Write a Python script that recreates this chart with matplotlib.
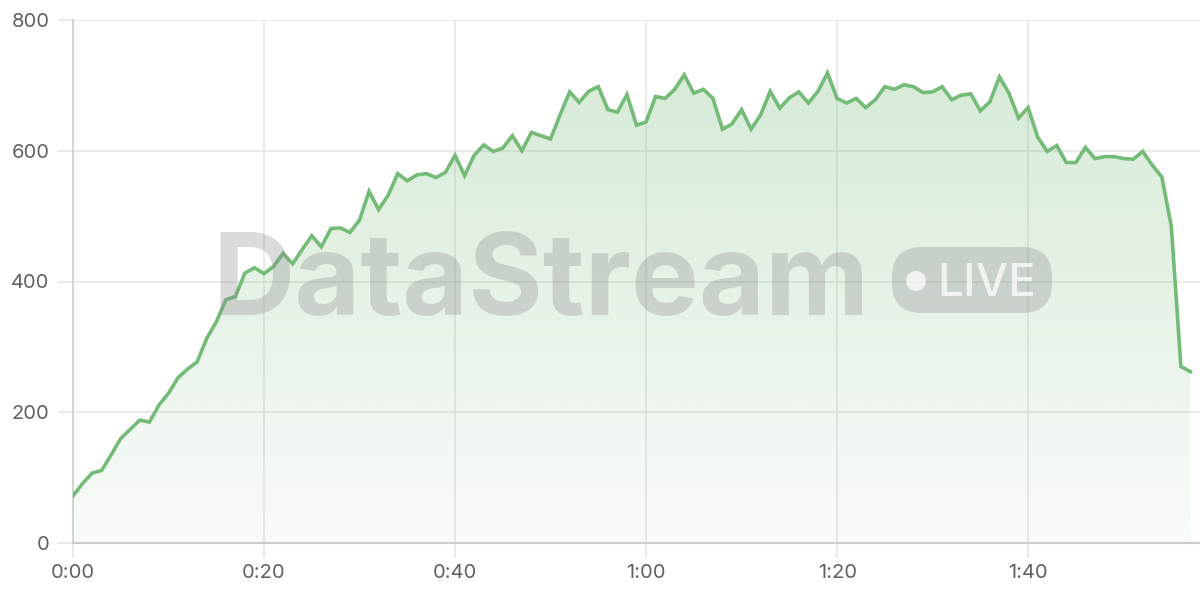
import numpy as np
import matplotlib
matplotlib.use("Agg")
import matplotlib.pyplot as plt
from matplotlib.patches import FancyBboxPatch, Ellipse
from matplotlib.colors import to_rgb

plt.rcParams['font.family'] = ['Inter', 'DejaVu Sans']

# seconds since start, one sample per second
seconds = list(range(118))
viewers = [
    72, 91, 107, 111, 135, 160, 174, 188, 185, 211,
    229, 253, 266, 277, 313, 338, 372, 377, 413, 421,
    412, 423, 443, 427, 449, 470, 453, 481, 482, 475,
    494, 538, 510, 532, 565, 554, 563, 565, 559, 567,
    593, 562, 593, 609, 599, 604, 623, 600, 628, 623,
    618, 655, 690, 674, 691, 698, 663, 659, 686, 639,
    644, 683, 680, 694, 716, 688, 694, 680, 633, 641,
    663, 633, 655, 691, 665, 681, 690, 673, 691, 719,
    680, 673, 680, 666, 678, 698, 694, 701, 698, 689,
    690, 698, 678, 685, 687, 661, 675, 713, 688, 650,
    666, 621, 599, 608, 582, 582, 605, 588, 591, 591,
    588, 587, 599, 578, 560, 484, 270, 262,
]
x_ticks = [0, 20, 40, 60, 80, 100]
x_tick_labels = ['0:00', '0:20', '0:40', '1:00', '1:20', '1:40']
y_ticks = [0, 200, 400, 600, 800]

line_color = '#74bb78'
grid_color = '#e6e6e6'
label_color = '#606060'

fig = plt.figure(figsize=(12, 6), dpi=100)
ax = fig.add_axes([73 / 1200, 57 / 600, 1 - 73 / 1200, (543 - 20) / 600])

ax.set_xlim(0, 118)
ax.set_ylim(0, 800)

# gradient fill under the line
fill = ax.fill_between(seconds, viewers, 0, color='none', lw=0, zorder=1)
r, g, b = to_rgb(line_color)
alpha = np.linspace(0.05, 0.32, 256).reshape(-1, 1)
grad = np.zeros((256, 1, 4))
grad[..., 0] = r
grad[..., 1] = g
grad[..., 2] = b
grad[..., 3] = alpha
img = ax.imshow(grad, extent=[0, 118, 0, 800], origin='lower', aspect='auto', zorder=1)
path = fill.get_paths()[0]
img.set_clip_path(path, transform=ax.transData)

ax.plot(seconds, viewers, color=line_color, lw=2.6, zorder=4, solid_joinstyle='miter')

ax.set_xticks(x_ticks)
ax.set_xticklabels(x_tick_labels)
ax.set_yticks(y_ticks)
ax.grid(True, color=grid_color, lw=1.2, zorder=0)
ax.set_axisbelow(True)
ax.tick_params(axis='both', colors=grid_color, labelcolor=label_color, labelsize=14.5,
               length=11, width=1.2)
ax.tick_params(axis='x', pad=4)
ax.tick_params(axis='y', pad=6)
for side in ['top', 'right']:
    ax.spines[side].set_visible(False)
ax.spines['left'].set_color('#d4d4d4')
ax.spines['bottom'].set_color('#cccccc')
ax.spines['left'].set_linewidth(1.5)
ax.spines['bottom'].set_linewidth(1.5)

# watermark
fig.text(541 / 1200, 1 - 315 / 600, 'DataStream', fontsize=82, fontweight='bold',
         color='#888888', alpha=0.3, ha='center', va='baseline', zorder=3)
badge = FancyBboxPatch((892 / 1200, 1 - 313 / 600), 160 / 1200, 66 / 600,
                       boxstyle='round,pad=0,rounding_size=0.025', transform=fig.transFigure,
                       facecolor='#888888', alpha=0.3, edgecolor='none', zorder=3,
                       mutation_aspect=2)
fig.add_artist(badge)
fig.add_artist(Ellipse((916 / 1200, 1 - 281 / 600), 20 / 1200, 20 / 600,
                       transform=fig.transFigure, facecolor='white', alpha=0.75,
                       edgecolor='none', zorder=3))
fig.text(937 / 1200, 1 - 296 / 600, 'LIVE', fontsize=33, fontweight=500, color='white',
         alpha=0.75, ha='left', va='baseline', zorder=3)

fig.savefig('out.png', dpi=100)
